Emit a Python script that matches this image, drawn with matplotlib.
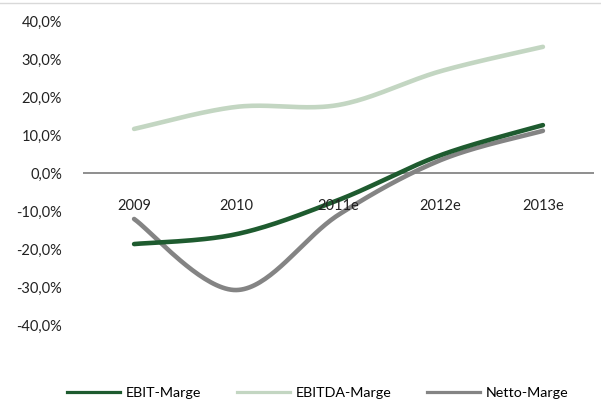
import numpy as np
import matplotlib
matplotlib.use("Agg")
import matplotlib.pyplot as plt
from matplotlib.lines import Line2D

# data (percent)
years = ["2009", "2010", "2011e", "2012e", "2013e"]
ebit = [-18.7, -16.1, -7.1, 4.7, 12.6]
ebitda = [11.6, 17.4, 17.9, 26.8, 33.2]
netto = [-12.1, -30.8, -11.0, 3.4, 11.1]

colors = {"EBIT-Marge": "#1e5b2f", "EBITDA-Marge": "#c3d6c2", "Netto-Marge": "#848484"}

plt.rcParams['font.family'] = ['Lato', 'DejaVu Sans']
FS = 10.5


def smooth(xs, ys, n=40):
    # excel-like smoothed line: bezier segments with catmull-rom control points
    xs = np.asarray(xs, float)
    ys = np.asarray(ys, float)
    px, py = [], []
    m = len(xs)
    for i in range(m - 1):
        p0 = (xs[max(i - 1, 0)], ys[max(i - 1, 0)])
        p1 = (xs[i], ys[i])
        p2 = (xs[i + 1], ys[i + 1])
        p3 = (xs[min(i + 2, m - 1)], ys[min(i + 2, m - 1)])
        c1 = (p1[0] + (p2[0] - p0[0]) / 6, p1[1] + (p2[1] - p0[1]) / 6)
        c2 = (p2[0] - (p3[0] - p1[0]) / 6, p2[1] - (p3[1] - p1[1]) / 6)
        t = np.linspace(0, 1, n)
        b0, b1, b2, b3 = (1 - t) ** 3, 3 * (1 - t) ** 2 * t, 3 * (1 - t) * t ** 2, t ** 3
        px.extend(b0 * p1[0] + b1 * c1[0] + b2 * c2[0] + b3 * p2[0])
        py.extend(b0 * p1[1] + b1 * c1[1] + b2 * c2[1] + b3 * p2[1])
    return px, py


fig = plt.figure(figsize=(6.01, 4.07), dpi=100)
ax = fig.add_axes([83 / 601, 1 - 325 / 407, 511 / 601, 304 / 407])

x = np.arange(len(years))
ax.axhline(0, color="#868686", lw=1.3, zorder=1)
for name, vals in [("EBIT-Marge", ebit), ("EBITDA-Marge", ebitda), ("Netto-Marge", netto)]:
    sx, sy = smooth(x, vals)
    ax.plot(sx, sy, color=colors[name], lw=3.3, solid_capstyle="round", zorder=3 if name == "EBIT-Marge" else 2)

ax.set_xlim(-0.5, 4.5)
ax.set_ylim(-40, 40)
ax.set_yticks(np.arange(-40, 41, 10))
ax.set_yticklabels([f"{v:.1f}%".replace(".", ",") for v in np.arange(-40, 41, 10)], fontsize=FS, color="#222222")
ax.tick_params(axis="y", length=0, pad=15)
ax.set_xticks([])
for s in ax.spines.values():
    s.set_visible(False)

for i, yr in enumerate(years):
    ax.text(i, -8.7, yr, ha="center", va="center", fontsize=FS, color="#222222")

# light border line at top
fig.add_artist(Line2D([0, 1], [1 - 3 / 407, 1 - 3 / 407], color="#d9d9d9", lw=1))

handles = [Line2D([], [], color=c, lw=2.3) for c in colors.values()]
fig.legend(handles, list(colors.keys()), loc="center", bbox_to_anchor=(318 / 601, 1 - 393 / 407),
           ncol=3, frameon=False, fontsize=10.3, handlelength=3.7, columnspacing=2.5, handletextpad=0.4)

fig.savefig("out.png", dpi=100)
